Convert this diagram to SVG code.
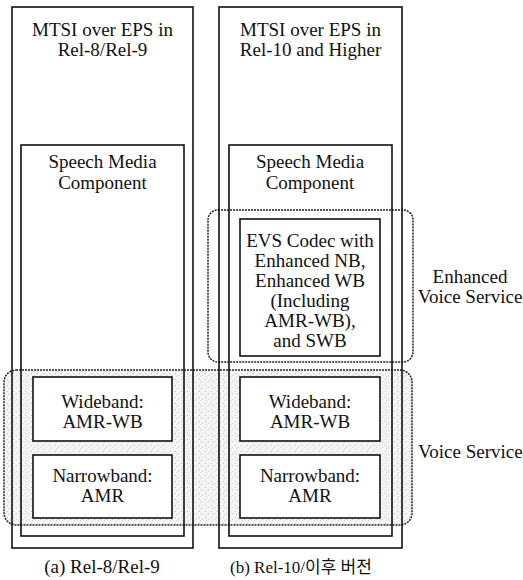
<svg xmlns="http://www.w3.org/2000/svg" width="523" height="580" viewBox="0 0 523 580">
<style>
text{font-family:'Liberation Serif','Times New Roman',Tinos,'DejaVu Serif',serif;font-size:19px;fill:#111;text-anchor:middle}
.ko{font-family:'Liberation Serif','Times New Roman','Noto Sans CJK KR',serif;text-anchor:start;font-size:17px}
.box{fill:none;stroke:#111;stroke-width:1.6}
.cell{fill:#fff;stroke:#111;stroke-width:1.6}
.grp{stroke:#222;stroke-width:1.5;stroke-dasharray:2 1}
.lbl{text-anchor:start}
</style>
<defs>
<pattern id="stip" width="6" height="6" patternUnits="userSpaceOnUse">
<rect width="6" height="6" fill="#f4f4f4"/>
<rect x="1" y="1" width="1" height="1" fill="#bbb"/>
<rect x="4" y="3" width="1" height="1" fill="#ccc"/>
<rect x="2" y="4" width="1" height="1" fill="#d0d0d0"/>
</pattern>
</defs>
<g id="voice-service-region">
<rect class="grp" x="4" y="370" width="408" height="155" rx="12" fill="url(#stip)"/>
</g>
<g id="enhanced-voice-service-region">
<rect class="grp" x="208" y="210" width="205" height="152" rx="10" fill="none"/>
</g>
<g id="mtsi-rel8">
<rect class="box" x="12" y="7" width="181" height="541"/>
<text x="102.5" y="36">MTSI over EPS in</text>
<text x="102.5" y="56">Rel-8/Rel-9</text>
</g>
<g id="speech-rel8">
<rect class="box" x="21" y="145" width="163" height="391"/>
<text x="102.5" y="168">Speech Media</text>
<text x="102.5" y="189">Component</text>
</g>
<g id="wb-rel8">
<rect class="cell" x="33" y="377" width="139" height="64"/>
<text x="102.5" y="408">Wideband:</text>
<text x="102.5" y="428">AMR-WB</text>
</g>
<g id="nb-rel8">
<rect class="cell" x="33" y="455" width="139" height="63"/>
<text x="102.5" y="482">Narrowband:</text>
<text x="102.5" y="502">AMR</text>
</g>
<g id="mtsi-rel10">
<rect class="box" x="219" y="7" width="183" height="541"/>
<text x="310.5" y="36">MTSI over EPS in</text>
<text x="310.5" y="56">Rel-10 and Higher</text>
</g>
<g id="speech-rel10">
<rect class="box" x="229" y="145" width="163" height="391"/>
<text x="310" y="168">Speech Media</text>
<text x="310" y="189">Component</text>
</g>
<g id="evs">
<rect class="cell" x="240" y="219" width="140" height="137"/>
<text x="310" y="247">EVS Codec with</text>
<text x="310" y="267">Enhanced NB,</text>
<text x="310" y="287">Enhanced WB</text>
<text x="310" y="307">(Including</text>
<text x="310" y="327">AMR-WB),</text>
<text x="310" y="347">and SWB</text>
</g>
<g id="wb-rel10">
<rect class="cell" x="240" y="377" width="140" height="64"/>
<text x="310" y="408">Wideband:</text>
<text x="310" y="428">AMR-WB</text>
</g>
<g id="nb-rel10">
<rect class="cell" x="240" y="455" width="140" height="63"/>
<text x="310" y="482">Narrowband:</text>
<text x="310" y="502">AMR</text>
</g>
<g id="label-enhanced">
<text x="470" y="283">Enhanced</text>
<text x="470" y="303">Voice Service</text>
</g>
<g id="label-voice">
<text class="lbl" x="418" y="458">Voice Service</text>
</g>
<g id="captions">
<text x="102" y="573">(a) Rel-8/Rel-9</text>
<text class="ko" x="230" y="573">(b) Rel-10/이후 버전</text>
</g>
</svg>
